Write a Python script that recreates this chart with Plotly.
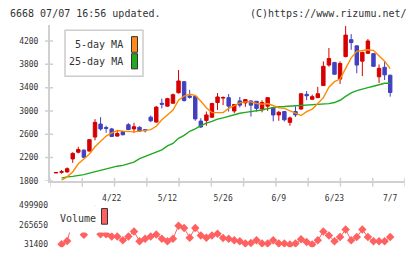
import plotly.graph_objects as go
import numpy as np

# ---------------- data ----------------
tick_idx = [10, 20, 30, 40, 50, 60]
tick_labels = ["4/22", "5/12", "5/26", "6/9", "6/23", "7/7"]

opens = [1935, 1945, 1951, 2175, 2290, 2326, 2309, 2551, 2774, 2715,
         2690, 2567, 2645, 2763, 2690, 2719, 2679, 2892, 2808, 3130,
         3082, 3132, 3312, 3502, 3256, 3250, 2825, 2837, 2892, 3144,
         3220, 3228, 2998, 3172, 3138, 3172, 3166, 3032, 3082, 3055,
         2931, 2988, 2803, 2988, 3032, 3285, 3200, 3228, 3435, 3788,
         3833, 3547, 3934, 4224, 4118, 3855, 3989, 3984, 3586, 3749,
         3614]
highs = [1942, 1985, 2030, 2290, 2383, 2340, 2510, 2858, 2892, 2745,
         2707, 2660, 2660, 2790, 2796, 2735, 2690, 2920, 3082, 3211,
         3225, 3300, 3703, 3510, 3362, 3260, 2875, 2988, 3140, 3307,
         3250, 3290, 3115, 3240, 3200, 3180, 3170, 3183, 3235, 3060,
         3000, 3000, 2903, 3082, 3300, 3340, 3280, 3413, 3850, 4081,
         3840, 3850, 4460, 4320, 4125, 4015, 4235, 3990, 3799, 3850,
         3620]
lows = [1933, 1920, 1940, 2107, 2270, 2186, 2305, 2494, 2662, 2623,
        2550, 2560, 2580, 2670, 2618, 2640, 2630, 2808, 2800, 3043,
        3075, 3125, 3300, 3160, 3211, 2830, 2707, 2746, 2880, 3015,
        3099, 2988, 2960, 3060, 3070, 2903, 2990, 2976, 3000, 2820,
        2830, 2820, 2746, 2897, 3020, 3184, 3190, 3220, 3430, 3760,
        3620, 3463, 3920, 4051, 3648, 3598, 3980, 3760, 3480, 3531,
        3245]
closes = [1940, 1955, 2007, 2270, 2337, 2203, 2506, 2803, 2690, 2700,
          2561, 2611, 2590, 2679, 2729, 2652, 2660, 2830, 3065, 3115,
          3211, 3278, 3514, 3178, 3233, 2863, 2724, 2931, 3127, 3240,
          3230, 3082, 3110, 3099, 3194, 3099, 3043, 3144, 3228, 2930,
          2976, 2847, 2880, 2931, 3295, 3260, 3245, 3295, 3766, 3900,
          3631, 3816, 4303, 4174, 3788, 4006, 4202, 3766, 3732, 3620,
          3317]
ma5 = [None, 1812, 1867, 1951, 2091, 2175, 2259, 2383, 2484, 2568,
       2623, 2662, 2652, 2640, 2640, 2652, 2665, 2679, 2736, 2847,
       2931, 3015, 3183, 3256, 3285, 3267, 3166, 3055, 2971, 2971,
       2971, 3043, 3088, 3138, 3155, 3155, 3127, 3116, 3127, 3088,
       3055, 3043, 3000, 2950, 2920, 2988, 3032, 3127, 3228, 3408,
       3502, 3547, 3727, 3912, 4023, 4034, 4051, 4040, 3939, 3855,
       3727]
ma25 = [None, 1845, 1867, 1875, 1884, 1905, 1930, 1955, 1975, 1995,
        2030, 2050, 2063, 2090, 2119, 2180, 2220, 2259, 2290, 2330,
        2400, 2440, 2530, 2580, 2650, 2690, 2745, 2790, 2820, 2860,
        2880, 2910, 2930, 2959, 2975, 2988, 3000, 3015, 3040, 3060,
        3071, 3075, 3080, 3088, 3090, 3095, 3099, 3105, 3110, 3125,
        3144, 3183, 3250, 3310, 3350, 3370, 3400, 3424, 3452, 3475,
        3475]
volume = [None, 31400, 70000, 300000, 350000, 145000, 400000, 450000, 152000, 152000,
          125000, 125000, 78000, 125000, 184000, 66500, 98000, 125000, 148500, 98000,
          66500, 98000, 254000, 227000, 110000, 227000, 137000, 110000, 137000, 157000,
          105000, 98000, 78000, 66500, 39500, 47000, 78000, 39500, 39500, 78000,
          39500, 39500, 28000, 39500, 90000, 58000, 28000, 78000, 184000, 137000,
          66500, 117000, 207000, 78000, 117000, 207000, 117000, 66500, 66500, 66500,
          117000]
price_ticks = [1800, 2200, 2600, 3000, 3400, 3800, 4200]
vol_ticks = [31400, 265650, 499900]
vol_ticktext = ["31400", "265650", "499900"]

x = list(range(len(closes)))

# ---------------- layout helpers ----------------
W, H = 420, 259
def px(p):
    return p / W
def py(p):
    return 1 - p / H

XR = [-1.08, 62.66]
MONO = "DejaVu Sans Mono"
TXT = "#333333"
AX = "#d0d0d0"

fig = go.Figure()

fig.add_trace(go.Scatter(x=x, y=ma25, mode="lines", line=dict(color="#1faa1f", width=1.4),
                         xaxis="x", yaxis="y", hoverinfo="skip"))
fig.add_trace(go.Scatter(x=x, y=ma5, mode="lines", line=dict(color="#ff8a00", width=1.4),
                         xaxis="x", yaxis="y", hoverinfo="skip"))
fig.add_trace(go.Candlestick(
    x=x, open=opens, high=highs, low=lows, close=closes,
    increasing=dict(line=dict(color="#d60000", width=1), fillcolor="#d60000"),
    decreasing=dict(line=dict(color="#4040c0", width=1), fillcolor="#4040c0"),
    whiskerwidth=0, xaxis="x", yaxis="y"))
fig.add_trace(go.Scatter(x=x, y=volume, mode="lines+markers",
                         line=dict(color="#ff6161", width=1),
                         marker=dict(symbol="diamond", size=6.5, color="#ff6161"),
                         connectgaps=False, xaxis="x2", yaxis="y2"))

shapes = []
# y-axis tick marks crossing the axis line
for v in price_ticks:
    shapes.append(dict(type="line", xref="paper", yref="y", x0=px(45), x1=px(53),
                       y0=v, y1=v, line=dict(color=AX, width=1.5), layer="below"))
# x-axis tick marks (uniform)
for v in np.linspace(XR[0], XR[1], 12):
    shapes.append(dict(type="line", xref="x", yref="paper", x0=v, x1=v,
                       y0=py(181), y1=py(190), line=dict(color=AX, width=1.5), layer="below"))
# price legend box
shapes.append(dict(type="rect", xref="paper", yref="paper", x0=px(65), x1=px(143),
                   y0=py(77), y1=py(30), fillcolor="white", line=dict(color="#cccccc", width=1.5),
                   layer="above"))
shapes.append(dict(type="rect", xref="paper", yref="paper", x0=px(131.5), x1=px(137.5),
                   y0=py(52.5), y1=py(36.5), fillcolor="#ff8a1a", line=dict(color="#333", width=1),
                   layer="above"))
shapes.append(dict(type="rect", xref="paper", yref="paper", x0=px(131.5), x1=px(137.5),
                   y0=py(69.5), y1=py(54), fillcolor="#1faa1f", line=dict(color="#333", width=1),
                   layer="above"))
# volume legend
shapes.append(dict(type="rect", xref="paper", yref="paper", x0=px(53), x1=px(112),
                   y0=py(237), y1=py(209), fillcolor="white", line=dict(width=0),
                   layer="above"))
shapes.append(dict(type="rect", xref="paper", yref="paper", x0=px(101.5), x1=px(107.5),
                   y0=py(228.5), y1=py(212.5), fillcolor="#ff6161", line=dict(color="#333", width=1),
                   layer="above"))

annotations = [
    dict(text="6668 07/07 16:56 updated.", x=px(8), y=py(12.5), xanchor="left"),
    dict(text="(C)https://www.rizumu.net/", x=px(409), y=py(12.5), xanchor="right"),
    dict(text="5-day MA", x=px(124.5), y=py(45), xanchor="right"),
    dict(text="25-day MA", x=px(124.5), y=py(62), xanchor="right"),
    dict(text="Volume", x=px(57.5), y=py(222.5), xanchor="left"),
]
for a in annotations:
    a.update(xref="paper", yref="paper", yanchor="middle", showarrow=False,
             font=dict(family=MONO, size=10, color=TXT))

fig.update_layout(
    width=W, height=H, margin=dict(l=0, r=0, t=0, b=0),
    paper_bgcolor="white", plot_bgcolor="white",
    showlegend=False, boxgap=0.12,
    shapes=shapes, annotations=annotations,
    xaxis=dict(domain=[px(50), px(405)], range=XR, anchor="y",
               tickvals=tick_idx, ticktext=tick_labels, ticks="",
               ticklabelstandoff=9,
               tickfont=dict(family=MONO, size=8, color=TXT),
               showline=True, linecolor=AX, linewidth=2, showgrid=False, zeroline=False,
               rangeslider=dict(visible=False)),
    yaxis=dict(domain=[py(184), py(25)], range=[1800, 4469], anchor="x",
               tickvals=price_ticks, ticks="", ticklabelstandoff=8,
               tickfont=dict(family=MONO, size=8, color=TXT),
               showline=True, linecolor=AX, linewidth=2, showgrid=False, zeroline=False),
    xaxis2=dict(domain=[px(50), px(405)], range=XR, anchor="y2", visible=False,
                matches="x"),
    yaxis2=dict(domain=[py(252), py(206)], range=[-3736, 535036], anchor="x2",
                tickvals=vol_ticks, ticktext=vol_ticktext, ticks="", ticklabelstandoff=1,
                tickfont=dict(family=MONO, size=8, color=TXT),
                showline=False, showgrid=False, zeroline=False),
)

fig.write_html("out.html")
